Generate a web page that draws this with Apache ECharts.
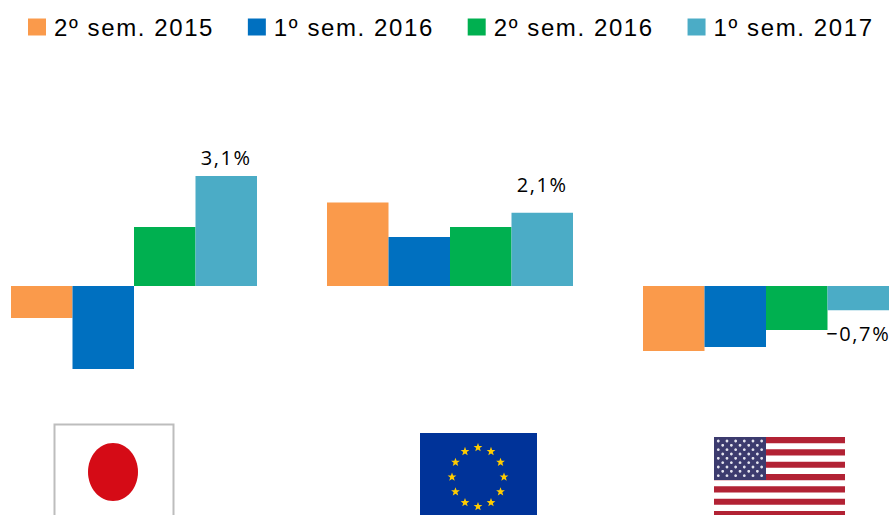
<!DOCTYPE html>
<html>
<head>
<meta charset="utf-8">
<style>
html, body { margin: 0; padding: 0; background: #fff; }
#chart { width: 892px; height: 515px; }
#chart text { letter-spacing: 1.6px; }
</style>
<script src="https://cdn.jsdelivr.net/npm/echarts@6/dist/echarts.min.js"></script>
</head>
<body>
<div id="chart"></div>
<script>
var regions = ['Japão', 'Zona do Euro', 'EUA']
var periods = ['2º sem. 2015', '1º sem. 2016', '2º sem. 2016', '1º sem. 2017']
var colors = ['#fa9a4b', '#0070c0', '#00b050', '#4bacc6']
var sem2015 = [-0.9, 2.35, -1.83]
var sem2016a = [-2.34, 1.38, -1.72]
var sem2016b = [1.66, 1.66, -1.24]
var sem2017 = [3.1, 2.06, -0.68]
var lastLabels = ['3,1%', '2,1%', '−0,7%']
var labelDistance = [8, 18, 13]

// small flag drawings under each group
function starPoints(cx, cy, r) {
  var pts = []
  for (var i = 0; i < 10; i++) {
    var rad = i % 2 === 0 ? r : r * 0.42
    var a = -Math.PI / 2 + i * Math.PI / 5
    pts.push([cx + rad * Math.cos(a), cy + rad * Math.sin(a)])
  }
  return pts
}

function flagJapan() {
  return [
    { type: 'rect', shape: { x: 54.5, y: 424.5, width: 119, height: 100 }, style: { fill: '#fff', stroke: '#bdbdbd', lineWidth: 2 } },
    { type: 'ellipse', shape: { cx: 113, cy: 472, rx: 25, ry: 29 }, style: { fill: '#d50b16' } }
  ]
}

function flagEurope() {
  var list = [{ type: 'rect', shape: { x: 420, y: 433, width: 117, height: 82 }, style: { fill: '#003399' } }]
  for (var i = 0; i < 12; i++) {
    var a = i * Math.PI / 6
    list.push({
      type: 'polygon',
      shape: { points: starPoints(478 + 26 * Math.sin(a), 477 - 29.5 * Math.cos(a), 4.6) },
      style: { fill: '#ffcc00' }
    })
  }
  return list
}

function flagUsa() {
  var list = []
  for (var i = 0; i < 7; i++) {
    list.push({ type: 'rect', shape: { x: 714, y: 437 + i * 12.33, width: 131, height: 6.2 }, style: { fill: '#b22234' } })
  }
  list.push({ type: 'rect', shape: { x: 714, y: 437, width: 52, height: 43 }, style: { fill: '#3c3b6e' } })
  for (var row = 0; row < 9; row++) {
    var n = row % 2 === 0 ? 6 : 5
    var startX = row % 2 === 0 ? 718.3 : 722.7
    for (var c = 0; c < n; c++) {
      list.push({ type: 'circle', shape: { cx: startX + c * 8.67, cy: 441 + row * 4.33, r: 1.4 }, style: { fill: '#e4e4ee' } })
    }
  }
  return list
}

var chart = echarts.init(document.getElementById('chart'), null, { renderer: 'svg' })

var seriesValues = [sem2015, sem2016a, sem2016b, sem2017]
var series = periods.map(function (name, s) {
  return {
    name: name,
    type: 'bar',
    barWidth: 61.5,
    barGap: 0,
    itemStyle: { color: colors[s] },
    data: seriesValues[s].map(function (v, i) {
      if (s < 3) {
        return v
      }
      return {
        value: v,
        label: {
          show: true,
          position: v < 0 ? 'bottom' : 'top',
          distance: labelDistance[i],
          formatter: lastLabels[i],
          color: '#000',
          fontFamily: 'Open Sans',
          fontSize: 20
        }
      }
    })
  }
})

chart.setOption({
  animation: false,
  backgroundColor: '#fff',
  legend: {
    left: 28,
    top: 15,
    padding: 0,
    itemWidth: 18,
    itemHeight: 17,
    itemGap: 53,
    icon: 'rect',
    data: periods,
    textStyle: { color: '#000', fontFamily: 'Liberation Sans', fontSize: 24, padding: [0, 0, 4, 3] }
  },
  grid: { left: -24, top: 144, width: 948, height: 248.5, outerBoundsMode: 'none' },
  xAxis: {
    type: 'category',
    data: regions,
    show: false
  },
  yAxis: {
    type: 'value',
    min: -3,
    max: 4,
    show: false
  },
  graphic: { elements: flagJapan().concat(flagEurope(), flagUsa()) },
  series: series
})
</script>
</body>
</html>
